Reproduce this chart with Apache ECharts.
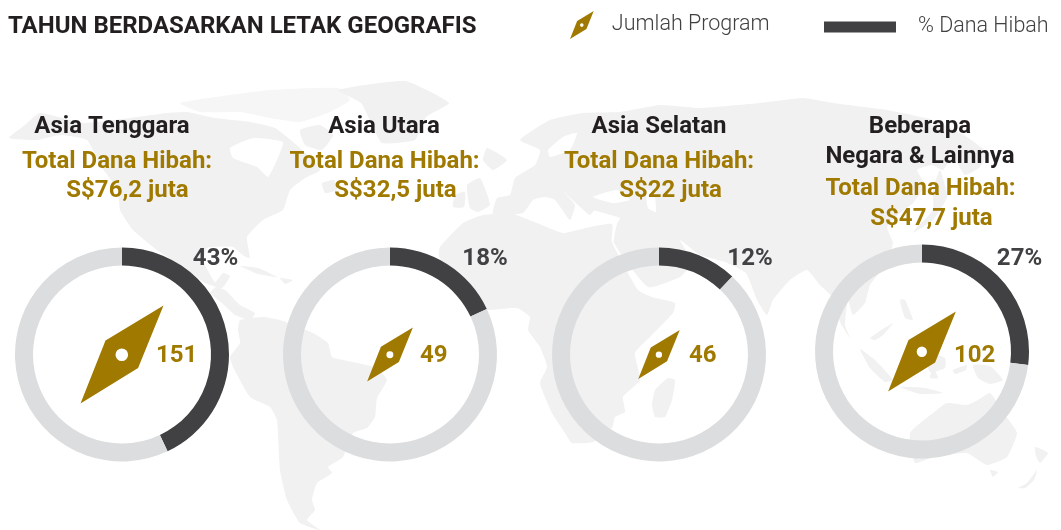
<!DOCTYPE html>
<html>
<head>
<meta charset="utf-8">
<title>Tahun berdasarkan letak geografis</title>
<style>
  html, body { margin: 0; padding: 0; background: #fff; }
  #chart { width: 1061px; height: 530px; }
</style>
<script src="https://cdn.jsdelivr.net/npm/echarts@6/dist/echarts.min.js"></script>
</head>
<body>
<div id="chart"></div>
<script>
// data
var regionTitles = [['Asia Tenggara'], ['Asia Utara'], ['Asia Selatan'], ['Beberapa', 'Negara & Lainnya']];
var grantTotals = ['S$76,2 juta', 'S$32,5 juta', 'S$22 juta', 'S$47,7 juta'];
var grantShares = [43, 18, 12, 27];
var programCounts = [151, 49, 46, 102];

// layout
var ringX = [122, 390, 659, 922];
var ringY = [354.5, 354.5, 354.5, 351.5];
var titleX = [112, 384, 659, 920];
var totalX = [117, 384.5, 659, 920.5];
var amountX = [127.5, 395.5, 670.5, 931.5];
var shareX = [215.5, 485, 750, 1019.5];
var countX = [156, 420, 689, 954];
var compassHeights = [98, 54, 49, 80];

var GOLD = '#a07a00', DARK = '#414042', RING = '#dcddde', INK = '#231f20', LAND = '#f1f1f2', ICE = '#f6f6f7';
var FONT = 'Roboto';

var compass = 'path://M83,0 L25,35 L0,98 L57.6,62.6 Z M35,49.3 A6.3,6.3 0 1 1 47.6,49.3 A6.3,6.3 0 1 1 35,49.3 Z';

// background map, traced by hand. white ones are seas cut out of the land
var land = [
  // alaska + canada + usa + mexico
  [[9,138],[25,125],[40,113],[83,123],[130,118],[167,113],[187,112],[215,118],[250,122],[275,128],[300,148],[320,170],[305,178],[290,190],[283,210],[263,220],[247,237],[250,258],[244,256],[233,247],[207,248],[204,262],[215,282],[223,273],[230,276],[222,288],[205,283],[185,268],[157,250],[133,230],[120,210],[118,190],[100,165],[87,140],[60,135],[37,140]],
  [[300,130],[320,125],[333,135],[322,150],[305,145]],
  [[322,183],[334,180],[337,190],[325,193]],
  // greenland
  [[338,90],[405,81],[449,103],[426,117],[415,140],[382,143],[372,125],[361,103]],
  // iceland, uk, ireland
  [[487,148],[507,160],[493,170],[483,160]],
  [[467,185],[480,178],[490,205],[478,212],[470,208]],
  [[455,195],[465,192],[464,207],[453,207]],
  // cuba, hispaniola
  [[240,266],[258,268],[277,277],[258,274]],
  [[280,278],[293,280],[285,284]],
  // central america
  [[216,287],[225,290],[240,305],[255,313],[250,320],[235,315],[222,303],[210,293]],
  // south america
  [[240,320],[263,317],[280,320],[313,333],[328,343],[332,357],[353,362],[377,368],[387,380],[377,398],[375,417],[367,428],[353,433],[343,457],[328,467],[332,473],[317,483],[312,500],[315,510],[307,520],[320,530],[300,523],[287,500],[280,470],[277,420],[270,407],[250,397],[233,367],[230,357],[240,343],[238,330]],
  // africa
  [[440,247],[463,223],[483,215],[510,213],[537,223],[563,233],[590,227],[612,224],[612,242],[638,290],[652,297],[675,303],[673,313],[650,337],[635,353],[640,380],[623,397],[625,412],[615,417],[612,428],[593,442],[572,443],[565,433],[552,413],[540,383],[547,367],[540,347],[528,330],[530,317],[517,308],[487,310],[473,307],[439,257]],
  // madagascar
  [[668,378],[675,380],[672,400],[665,417],[655,417],[652,405],[655,390]],
  // eurasia
  [[493,215],[497,198],[510,195],[515,178],[535,165],[540,150],[520,140],[550,120],[583,113],[620,112],[660,105],[700,108],[760,103],[803,98],[833,103],[887,110],[933,120],[967,137],[987,153],[980,167],[965,175],[953,157],[943,170],[932,165],[917,170],[925,185],[913,203],[900,213],[887,227],[893,243],[885,265],[870,285],[865,303],[853,315],[848,300],[845,325],[850,338],[840,322],[835,300],[820,285],[807,270],[790,280],[773,300],[767,315],[757,300],[746,273],[725,262],[700,255],[680,240],[692,262],[680,277],[648,287],[614,243],[617,224],[620,218],[583,207],[597,205],[590,215],[578,205],[562,190],[575,205],[570,220],[555,200],[545,197],[533,200],[523,213]],
  // japan
  [[940,170],[947,197],[933,220],[913,233],[917,227],[933,210],[933,190]],
  // se asia islands
  [[900,300],[905,300],[913,320],[905,318]],
  [[870,338],[893,323],[883,335],[875,340]],
  [[860,349],[875,360],[893,380],[885,382],[870,368]],
  [[900,387],[925,388],[943,393],[920,394]],
  [[925,352],[945,358],[945,368],[930,372]],
  [[933,367],[938,378],[930,378]],
  [[953,370],[967,365],[966,370],[955,374]],
  [[973,365],[990,366],[1003,380],[990,384],[978,378]],
  // australia, tasmania, nz
  [[910,433],[933,413],[947,403],[967,405],[978,400],[990,393],[1005,415],[1017,433],[1007,457],[987,465],[967,453],[933,457],[915,463]],
  [[990,470],[998,472],[993,477]],
  [[1035,447],[1048,453],[1040,463],[1036,456]],
  [[1037,470],[1027,483],[1018,488],[1025,488],[1034,480]]
];
// the arctic islands are broken up in the picture, so a paler fill reads closer
var arctic = [
  [[180,103],[230,95],[270,90],[338,88],[350,100],[330,112],[300,122],[270,118],[240,112],[200,112]]
];
var seas = [
  // hudson bay
  [[230,148],[253,138],[283,142],[277,160],[268,177],[257,167],[233,158]],
  // baltic
  [[563,137],[577,133],[570,150],[550,157],[548,150]],
  // black sea, caspian
  [[593,197],[617,190],[630,200],[613,203]],
  [[646,190],[654,192],[656,212],[648,208]]
];

var graphics = [];
function addShapes(list, fill, z) {
  list.forEach(function (pts) {
    graphics.push({ type: 'polygon', silent: true, z: z, shape: { points: pts, smooth: 0.15 }, style: { fill: fill } });
  });
}
addShapes(arctic, ICE, -11);
addShapes(land, LAND, -10);
addShapes(seas, '#fff', -9);

function addText(str, x, y, size, color, align) {
  graphics.push({
    type: 'text', silent: true, z: 20, x: x, y: y + 2,
    style: { text: str, fill: color, font: '700 ' + size + 'px ' + FONT, textAlign: align || 'center', textVerticalAlign: 'middle' }
  });
}

addText('TAHUN BERDASARKAN LETAK GEOGRAFIS', 8, 25, 24, INK, 'left');

regionTitles.forEach(function (lines, i) {
  var two = lines.length > 1;
  addText(lines[0], titleX[i], 125, 24, INK);
  if (two) addText(lines[1], titleX[i], 155, 24, INK);
  addText('Total Dana Hibah:', totalX[i], two ? 187 : 160, 24, GOLD);
  addText(grantTotals[i], amountX[i], two ? 217 : 189, 24, GOLD);
  addText(grantShares[i] + '%', shareX[i], 257, 24, DARK);
  addText(String(programCounts[i]), countX[i], 354, 24, GOLD, 'left');
});

var pies = grantShares.map(function (v, i) {
  return {
    type: 'pie',
    silent: true,
    center: [ringX[i], ringY[i]],
    radius: [89, 107],
    startAngle: 90,
    clockwise: true,
    label: { show: false },
    labelLine: { show: false },
    data: [
      { name: '% Dana Hibah', value: v, itemStyle: { color: DARK } },
      { name: 'Sisa', value: 100 - v, itemStyle: { color: RING } }
    ]
  };
});

var points = programCounts.map(function (v, i) { return [ringX[i], ringY[i], v]; });

var option = {
  animation: false,
  backgroundColor: 'transparent',
  legend: [
    {
      data: [{ name: 'Jumlah Program', icon: compass }],
      left: 565, top: 6, itemWidth: 24, itemHeight: 28, selectedMode: false,
      textStyle: { fontFamily: FONT, fontWeight: 300, fontSize: 21.5, color: DARK, padding: [0, 0, 0, 13] }
    },
    {
      data: [{ name: '% Dana Hibah', icon: 'rect' }],
      left: 819, top: 11, itemWidth: 72, itemHeight: 11, selectedMode: false,
      textStyle: { fontFamily: FONT, fontWeight: 300, fontSize: 21.5, color: DARK, padding: [0, 0, 0, 17] }
    }
  ],
  grid: { left: 0, right: 0, top: 0, bottom: 0 },
  xAxis: { type: 'value', min: 0, max: 1061, show: false },
  yAxis: { type: 'value', min: 0, max: 530, inverse: true, show: false },
  series: pies.concat([
    {
      name: 'dot',
      type: 'scatter',
      silent: true,
      z: 3,
      symbol: 'circle',
      symbolSize: function (d, p) { return compassHeights[p.dataIndex] * 0.14; },
      itemStyle: { color: '#fff', opacity: 1 },
      data: points
    },
    {
      name: 'Jumlah Program',
      type: 'scatter',
      silent: true,
      z: 4,
      symbol: compass,
      symbolSize: function (d, p) {
        var h = compassHeights[p.dataIndex];
        return [h * 0.847, h];
      },
      itemStyle: { color: GOLD, opacity: 1 },
      data: points
    }
  ]),
  graphic: graphics
};

var myChart = echarts.init(document.getElementById('chart'));
myChart.setOption(option);
</script>
</body>
</html>
